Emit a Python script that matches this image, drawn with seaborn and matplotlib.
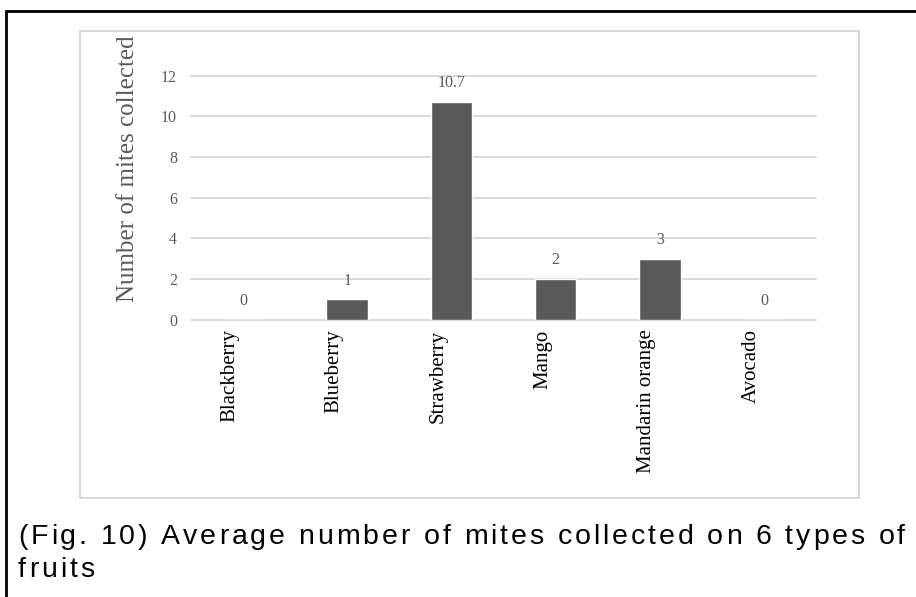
import matplotlib
matplotlib.use("Agg")
import matplotlib.pyplot as plt
import pandas as pd
import seaborn as sns
from matplotlib.patches import Rectangle
from matplotlib.transforms import ScaledTranslation
from matplotlib import font_manager
from matplotlib.ft2font import FT2Font

# data
fruits = ["Blackberry", "Blueberry", "Strawberry", "Mango", "Mandarin orange", "Avocado"]
mites = [0, 1, 10.7, 2, 3, 0]
yticks = [0, 2, 4, 6, 8, 10, 12]
ylabel = "Number of mites collected"
caption = ["(Fig. 10) Average number of mites collected on 6 types of", "fruits"]

W, H = 916, 597
sns.set_theme(style="white")
plt.rcParams["font.family"] = ["Liberation Serif", "DejaVu Serif"]

fig = plt.figure(figsize=(W / 100, H / 100), dpi=100)
ax = fig.add_axes([191 / W, 1 - 319.7 / H, 625 / W, 244 / H])

df = pd.DataFrame({"fruit": fruits, "mites": mites})
sns.barplot(data=df, x="fruit", y="mites", color="#595959", saturation=1,
            width=0.4, ax=ax)

ax.set_xlim(-0.5, len(fruits) - 0.5)
ax.set_ylim(0, 12)
ax.set_yticks(yticks)
ax.yaxis.grid(True, color="#d9d9d9", lw=1.4)
for gl in ax.get_ygridlines():
    gl.set_clip_on(False)
ax.set_axisbelow(True)
for s in ax.spines.values():
    s.set_visible(False)
ax.set_xlabel("")
ax.set_ylabel("")
ax.tick_params(axis="y", length=0, pad=10, labelsize=11.5, labelcolor="#595959")
ax.tick_params(axis="x", length=0, pad=7, labelsize=15, labelcolor="black")
ax.set_xticks(range(len(fruits)))
ax.set_xticklabels(fruits, rotation=90, va="top", ha="center")
shift = ScaledTranslation(-13 / 100, 0, fig.dpi_scale_trans)
for lab in ax.get_xticklabels():
    lab.set_transform(lab.get_transform() + shift)

# value labels above the bars
for p, v in zip(ax.patches, mites):
    ax.annotate(f"{v:g}", (p.get_x() + p.get_width() / 2, v),
                xytext=(0, 13.5), textcoords="offset points",
                ha="center", va="center", fontsize=11.5, color="#595959")

fig.text(128 / W, 1 - 169 / H, ylabel, rotation=90, ha="center", va="center",
         fontsize=18, color="#595959")

# chart frame and the outer black frame
fig.add_artist(Rectangle((80 / W, 1 - 498 / H), 779 / W, 467 / H,
                         transform=fig.transFigure, fill=False,
                         ec="#d9d9d9", lw=1.4))
fig.add_artist(Rectangle((6 / W, -0.2), 1.5, 1.2 - 11 / H,
                         transform=fig.transFigure, fill=False,
                         ec="black", lw=2, clip_on=False))

# caption, letter spaced like the original
cap_size = 20.5
ft = FT2Font(font_manager.findfont(font_manager.FontProperties(family="Liberation Sans")))
ft.set_size(cap_size, 100)


def adv(ch):
    return ft.load_char(ord(ch)).linearHoriAdvance / 65536


natural = sum(adv(c) for c in caption[0])
track = (905 - 18 - natural) / (len(caption[0]) - 1)
for line, base in zip(caption, [544, 577]):
    x = 18
    for ch in line:
        if ch != " ":
            fig.text(x / W, 1 - base / H, ch, family="Liberation Sans",
                     fontsize=cap_size, color="black", ha="left", va="baseline")
        x += adv(ch) + track

fig.savefig("out.png", dpi=100)
